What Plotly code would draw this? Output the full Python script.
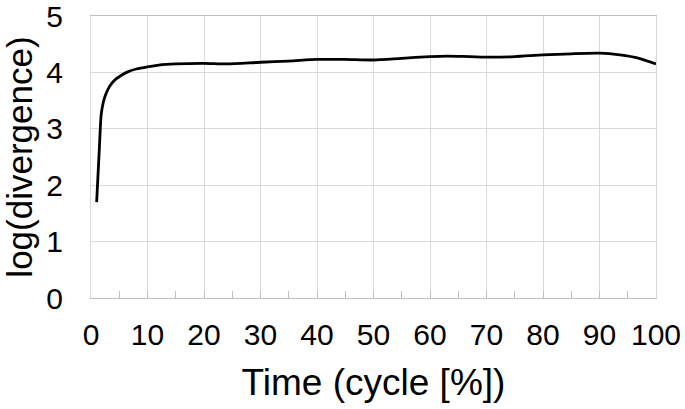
import plotly.graph_objects as go

time_pct = [1, 1.5, 1.8, 2.2, 2.5, 3, 3.7, 4.5, 5.4, 6.5, 8, 10, 12, 15, 20, 24, 30, 35, 40, 45,
            50, 55, 60, 63, 67, 71, 75, 80, 85, 90, 93.6, 97, 100]
log_div = [1.70, 2.70, 3.25, 3.48, 3.58, 3.70, 3.81, 3.89, 3.95, 4.01, 4.06, 4.10, 4.13, 4.15,
           4.16, 4.15, 4.18, 4.20, 4.23, 4.23, 4.22, 4.25, 4.28, 4.29, 4.28, 4.27, 4.28, 4.31,
           4.33, 4.34, 4.31, 4.25, 4.15]

x_ticks = list(range(0, 101, 10))
y_ticks = [0, 1, 2, 3, 4, 5]

fig = go.Figure()
fig.add_trace(go.Scatter(x=time_pct, y=log_div, mode="lines",
                         line=dict(color="black", width=2.8, shape="spline", smoothing=0.7),
                         showlegend=False, hoverinfo="skip"))

font_family = "Liberation Sans, Arial, sans-serif"
grid = "#d9d9d9"
fig.update_layout(
    width=685, height=409,
    margin=dict(l=91, r=29, t=16, b=111),
    paper_bgcolor="white", plot_bgcolor="white",
    font=dict(family=font_family, color="black"),
    xaxis=dict(range=[0, 100], tickvals=x_ticks, ticktext=[str(v) for v in x_ticks],
               showgrid=True, gridcolor=grid, gridwidth=1,
               showline=True, linecolor="#bfbfbf", linewidth=1, mirror=True,
               ticks="inside", ticklen=7, tickcolor="#bfbfbf",
               minor=dict(dtick=5, tick0=0, ticks="inside", ticklen=7, tickcolor="#bfbfbf", showgrid=False),
               tickfont=dict(size=30, family=font_family, color="black"),
               ticklabelstandoff=10, automargin=False, ticklabeloverflow="allow",
               title=dict(text="Time (cycle [%])", font=dict(size=37, family=font_family, color="black"),
                          standoff=19),
               zeroline=False, fixedrange=True),
    yaxis=dict(range=[0, 5], tickvals=y_ticks, ticktext=[str(v) for v in y_ticks],
               showgrid=True, gridcolor=grid, gridwidth=1,
               showline=True, linecolor=grid, linewidth=1, mirror=True,
               ticks="",
               tickfont=dict(size=30, family=font_family, color="black"),
               ticklabelstandoff=21, automargin=False, ticklabeloverflow="allow",
               title=dict(text="log(divergence)", font=dict(size=35, family=font_family, color="black"),
                          standoff=22),
               zeroline=False, fixedrange=True),
)

fig.write_html("out.html", config={"displayModeBar": False},
               post_script="document.body.style.margin='0';document.body.style.overflow='hidden';")
